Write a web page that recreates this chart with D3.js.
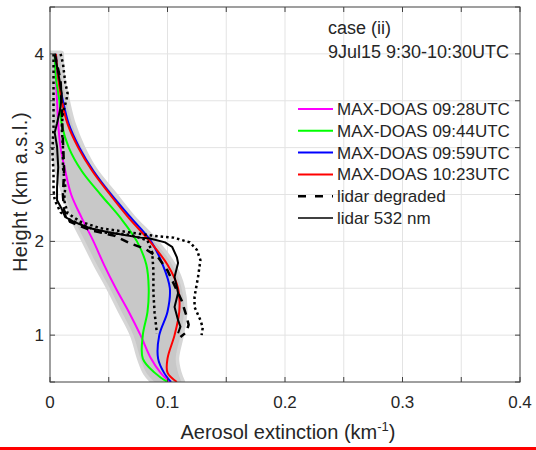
<!DOCTYPE html>
<html><head><meta charset="utf-8">
<script src="https://cdn.jsdelivr.net/npm/d3@7"></script>
<style>body{margin:0;background:#fff}svg{display:block}text{font-family:"Liberation Sans",Arial,sans-serif;fill:#262626}</style>
</head><body><svg id="c" width="536" height="450"></svg>
<script>
// ---------- data ----------
const mdHeights = [4.0,3.75,3.5,3.25,3.0,2.75,2.5,2.25,2.0,1.75,1.5,1.25,1.0,0.75,0.6,0.5];
const md0928 = [0.004,0.005,0.006,0.007,0.009,0.013,0.018,0.027,0.037,0.046,0.056,0.067,0.077,0.086,0.094,0.102];
const md0944 = [0.004,0.005,0.008,0.010,0.016,0.027,0.043,0.060,0.074,0.082,0.084,0.083,0.079,0.079,0.089,0.100];
const md0959 = [0.005,0.007,0.011,0.016,0.025,0.037,0.052,0.069,0.086,0.096,0.102,0.100,0.093,0.092,0.097,0.103];
const md1023 = [0.005,0.007,0.010,0.015,0.024,0.036,0.051,0.067,0.085,0.100,0.109,0.110,0.106,0.100,0.100,0.108];
const envLow  = [0.001,0.001,0.002,0.003,0.003,0.007,0.013,0.020,0.030,0.040,0.051,0.061,0.071,0.077,0.082,0.089];
const envHigh = [0.009,0.010,0.014,0.019,0.027,0.038,0.054,0.070,0.089,0.104,0.112,0.114,0.111,0.107,0.109,0.112];

const lidarH   = [4.0,3.80,3.58,3.43,3.26,3.16,3.01,2.79,2.58,2.44,2.37,2.26,2.21,2.14,2.10,2.07,2.04,2.03,1.99,1.94,1.83,1.77,1.62,1.51,1.45,1.30,1.16,1.09,1.02];
const lidar532 = [0.004,0.007,0.010,0.009,0.006,0.004,0.006,0.007,0.006,0.006,0.009,0.013,0.020,0.034,0.049,0.062,0.077,0.085,0.098,0.104,0.108,0.109,0.106,0.108,0.109,0.106,0.109,0.111,0.109];

const degH     = [4.0,3.72,3.40,3.08,2.76,2.49,2.33,2.21,2.12,2.06,1.98,1.92,1.83,1.69,1.53,1.37,1.21,1.11,1.03,0.98];
const lidarDeg = [0.004,0.009,0.010,0.011,0.012,0.011,0.012,0.017,0.034,0.055,0.068,0.081,0.092,0.100,0.106,0.112,0.116,0.118,0.116,0.111];

const dotLowH  = [4.0,3.61,3.43,3.22,2.97,2.73,2.55,2.44,2.31,2.23,2.10,2.07,2.01,1.88,1.69,1.45,1.24,1.02];
const dotLow   = [0.003,0.003,0.003,0.003,0.002,0.003,0.003,0.004,0.009,0.017,0.043,0.068,0.083,0.087,0.088,0.088,0.089,0.091];
const dotHighH = [4.0,3.90,3.69,3.58,3.51,3.37,3.22,3.01,2.79,2.58,2.44,2.30,2.21,2.14,2.06,2.04,1.99,1.91,1.80,1.62,1.41,1.30,1.16,1.08,1.00];
const dotHigh  = [0.009,0.011,0.013,0.015,0.014,0.011,0.010,0.011,0.011,0.013,0.012,0.015,0.026,0.043,0.088,0.105,0.119,0.125,0.128,0.126,0.123,0.123,0.128,0.130,0.129];

const xTicks = [0,0.05,0.1,0.15,0.2,0.25,0.3,0.35,0.4];
const xLabels = [0,0.1,0.2,0.3,0.4];
const yTicks = [0.5,1,1.5,2,2.5,3,3.5,4,4.5];
const yLabels = [1,2,3,4];
const legendLabels = ["MAX-DOAS 09:28UTC","MAX-DOAS 09:44UTC","MAX-DOAS 09:59UTC","MAX-DOAS 10:23UTC","lidar degraded","lidar 532 nm"];
const titleLines = ["case (ii)","9Jul15 9:30-10:30UTC"];

// ---------- layout ----------
const svg = d3.select("#c");
const L=50, R=520, T=7, B=382;
const x = d3.scaleLinear().domain([0,0.4]).range([L,R]);
const y = d3.scaleLinear().domain([0.5,4.5]).range([B,T]);
const axisCol = "#404040", gridCol="#e3e3e3";

// grid
svg.append("g").selectAll("line").data(xTicks.slice(1,-1)).join("line")
  .attr("x1",d=>x(d)).attr("x2",d=>x(d)).attr("y1",T).attr("y2",B).attr("stroke",gridCol);
svg.append("g").selectAll("line").data(yTicks.slice(1,-1)).join("line")
  .attr("y1",d=>y(d)).attr("y2",d=>y(d)).attr("x1",L).attr("x2",R).attr("stroke",gridCol);

svg.append("clipPath").attr("id","pc").append("rect").attr("x",L).attr("y",T).attr("width",R-L).attr("height",B-T);
const plot = svg.append("g").attr("clip-path","url(#pc)");

// envelope
const env = mdHeights.map((h,i)=>({h,lo:envLow[i],hi:envHigh[i]}));
const area = d3.area().y(d=>y(d.h)).x0(d=>x(d.lo)).x1(d=>x(d.hi)).curve(d3.curveCatmullRom);
plot.append("path").datum(env).attr("d",area).attr("fill","#c8c8c8")
  .attr("stroke","#d6d6d6").attr("stroke-width",7).attr("stroke-linejoin","round");
plot.append("path").datum(env).attr("d",area).attr("fill","#c8c8c8");

const smooth = d3.line().x(d=>x(d[1])).y(d=>y(d[0])).curve(d3.curveCatmullRom);
const lin = d3.line().x(d=>x(d[1])).y(d=>y(d[0]));
const md = [[md0928,"#ff00ff"],[md0944,"#00ff00"],[md0959,"#0000ff"],[md1023,"#ff0000"]];
md.forEach(([vals,c])=>{
  plot.append("path").datum(mdHeights.map((h,i)=>[h,vals[i]])).attr("d",smooth)
    .attr("fill","none").attr("stroke",c).attr("stroke-width",2);
});
// lidar
[[dotLowH,dotLow],[dotHighH,dotHigh]].forEach(([hs,vs])=>{
  plot.append("path").datum(hs.map((h,i)=>[h,vs[i]])).attr("d",lin)
    .attr("fill","none").attr("stroke","#000").attr("stroke-width",2.5).attr("stroke-dasharray","2.5 3");
});
plot.append("path").datum(degH.map((h,i)=>[h,lidarDeg[i]])).attr("d",lin)
  .attr("fill","none").attr("stroke","#000").attr("stroke-width",2.5).attr("stroke-dasharray","8 6");
plot.append("path").datum(lidarH.map((h,i)=>[h,lidar532[i]])).attr("d",lin)
  .attr("fill","none").attr("stroke","#000").attr("stroke-width",2);

// axes box and ticks
svg.append("rect").attr("x",L).attr("y",T).attr("width",R-L).attr("height",B-T)
  .attr("fill","none").attr("stroke",axisCol).attr("stroke-width",1);
const tk=5;
xTicks.forEach(d=>{
  svg.append("line").attr("x1",x(d)).attr("x2",x(d)).attr("y1",B).attr("y2",B-tk).attr("stroke",axisCol);
  svg.append("line").attr("x1",x(d)).attr("x2",x(d)).attr("y1",T).attr("y2",T+tk).attr("stroke",axisCol);
});
yTicks.forEach(d=>{
  svg.append("line").attr("y1",y(d)).attr("y2",y(d)).attr("x1",L).attr("x2",L+tk).attr("stroke",axisCol);
  svg.append("line").attr("y1",y(d)).attr("y2",y(d)).attr("x1",R).attr("x2",R-tk).attr("stroke",axisCol);
});
svg.append("g").selectAll("text").data(xLabels).join("text")
  .attr("x",d=>x(d)).attr("y",408).attr("text-anchor","middle").attr("font-size",17).text(d=>d);
svg.append("g").selectAll("text").data(yLabels).join("text")
  .attr("x",44).attr("y",d=>y(d)+6).attr("text-anchor","end").attr("font-size",17).text(d=>d);

// axis labels
const xl = svg.append("text").attr("x",288).attr("y",439).attr("text-anchor","middle").attr("font-size",20);
xl.append("tspan").text("Aerosol extinction (km");
xl.append("tspan").attr("dy",-8).attr("font-size",13).text("-1");
xl.append("tspan").attr("dy",8).text(")");
svg.append("text").attr("transform","translate(27,192) rotate(-90)").attr("text-anchor","middle")
  .attr("font-size",20).attr("letter-spacing",0.5).text("Height (km a.s.l.)");

// title text
titleLines.forEach((t,i)=>svg.append("text").attr("x",328).attr("y",34+i*24).attr("font-size",18).text(t));

// legend
const legStyles = [["#ff00ff",null,2],["#00ff00",null,2],["#0000ff",null,2],["#ff0000",null,2],["#000","8 9",2.5],["#000",null,1.5]];
legendLabels.forEach((t,i)=>{
  const yy = 109 + i*21.8;
  const s = legStyles[i];
  svg.append("line").attr("x1",298).attr("x2",333).attr("y1",yy).attr("y2",yy)
    .attr("stroke",s[0]).attr("stroke-width",s[2]).attr("stroke-dasharray",s[1]);
  svg.append("text").attr("x",337).attr("y",yy+6).attr("font-size",17).text(t);
});

// bottom red line
svg.append("rect").attr("x",0).attr("y",447).attr("width",536).attr("height",3).attr("fill","#ff0000");
</script></body></html>
